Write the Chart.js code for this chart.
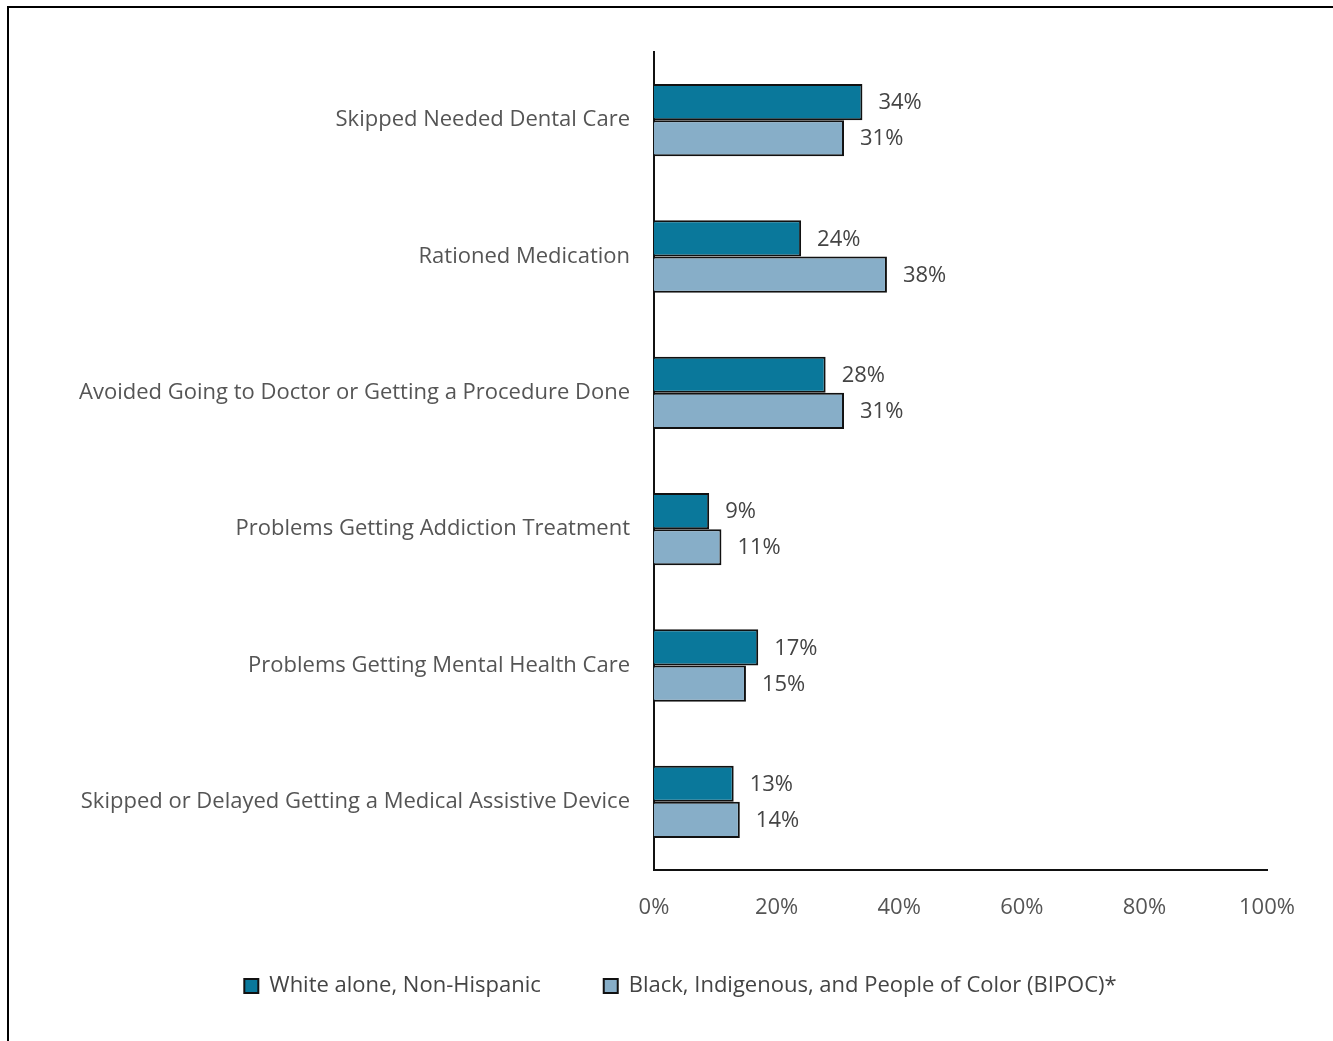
<!DOCTYPE html>
<html>
<head>
<meta charset="utf-8">
<script src="https://cdn.jsdelivr.net/npm/chart.js@4"></script>
<style>
  body { margin: 0; background: #fff; }
  #frame {
    position: absolute; left: 7px; top: 6px;
    width: 1400px; height: 1100px;
    border: 2px solid #000;
  }
  #wrap { position: absolute; left: 0; top: 0; width: 1333px; height: 1041px; }
</style>
</head>
<body>
<div id="frame"></div>
<div id="wrap"><canvas id="careChart"></canvas></div>
<script>
const categories = [
  "Skipped Needed Dental Care",
  "Rationed Medication",
  "Avoided Going to Doctor or Getting a Procedure Done",
  "Problems Getting Addiction Treatment",
  "Problems Getting Mental Health Care",
  "Skipped or Delayed Getting a Medical Assistive Device",
];
const whiteValues = [34, 24, 28, 9, 17, 13];
const bipocValues = [31, 38, 31, 11, 15, 14];
const seriesNames = [
  "White alone, Non-Hispanic",
  "Black, Indigenous, and People of Color (BIPOC)*",
];
const xTicks = [0, 20, 40, 60, 80, 100];

const FONT = "Open Sans";

const valueLabels = {
  id: "valueLabels",
  afterDatasetsDraw(chart) {
    const ctx = chart.ctx;
    ctx.save();
    ctx.font = "22px '" + FONT + "'";
    ctx.fillStyle = "#444";
    ctx.textBaseline = "middle";
    chart.data.datasets.forEach((ds, i) => {
      chart.getDatasetMeta(i).data.forEach((bar, j) => {
        ctx.fillText(ds.data[j] + "%", bar.x + 16, bar.y + 1);
      });
    });
    ctx.restore();
  },
};

// legend sits a bit right of centre and slightly higher in the original
const legendShift = {
  id: "legendShift",
  afterLayout(chart) {
    const lg = chart.legend;
    if (lg) {
      lg.left += 37;
      lg.right += 37;
      lg.top -= 4;
      lg.bottom -= 4;
    }
  },
};

function initChart() {
  const ctx = document.getElementById("careChart");
  if (!ctx) {
    return;
  }
  new Chart(ctx, {
    type: "bar",
    plugins: [valueLabels, legendShift],
    data: {
      labels: categories,
      datasets: [
        {
          label: seriesNames[0],
          data: whiteValues,
          backgroundColor: "#0a789b",
          borderColor: "#111",
          borderWidth: 2,
          borderSkipped: "left",
        },
        {
          label: seriesNames[1],
          data: bipocValues,
          backgroundColor: "#87aec8",
          borderColor: "#111",
          borderWidth: 2,
          borderSkipped: "left",
        },
      ],
    },
    options: {
      indexAxis: "y",
      responsive: true,
      maintainAspectRatio: false,
      animation: false,
      datasets: {
        bar: {
          barPercentage: 1,
          categoryPercentage: 0.53,
        },
      },
      layout: {
        padding: { top: 52, right: 66, bottom: 30, left: 20 },
      },
      plugins: {
        legend: {
          position: "bottom",
          labels: {
            font: { family: FONT, size: 22 },
            color: "#444",
            boxWidth: 14,
            boxHeight: 14,
            padding: 63,
          },
        },
        tooltip: {
          enabled: false,
        },
      },
      scales: {
        x: {
          min: 0,
          max: 100,
          afterBuildTicks: (axis) => {
            axis.ticks = xTicks.map((v) => ({ value: v }));
          },
          afterFit: (axis) => {
            axis.height = 46;
          },
          grid: { display: false, drawTicks: false },
          border: { color: "#111", width: 2 },
          ticks: {
            padding: 25,
            color: "#555",
            font: { family: FONT, size: 22 },
            callback: (v) => v + "%",
          },
        },
        y: {
          afterFit: (axis) => {
            axis.width = 634;
          },
          grid: { display: false, drawTicks: false },
          border: { color: "#111", width: 2 },
          ticks: {
            padding: 24,
            color: "#555",
            font: { family: FONT, size: 22 },
          },
        },
      },
    },
  });
}

initChart();
</script>
</body>
</html>
